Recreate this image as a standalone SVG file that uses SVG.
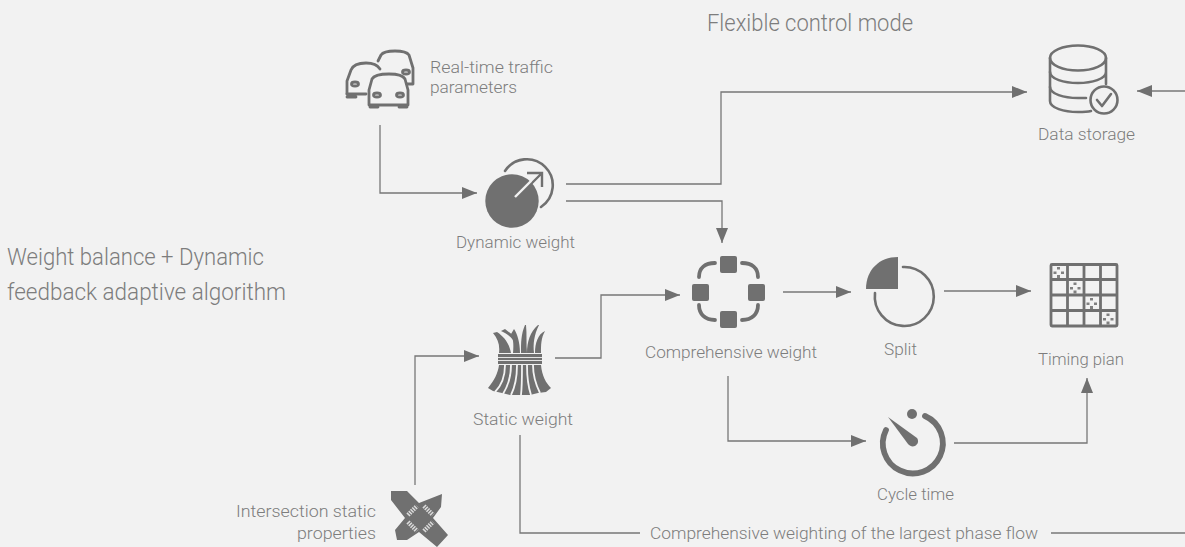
<svg xmlns="http://www.w3.org/2000/svg" width="1185" height="547" viewBox="0 0 1185 547">
<style>
text{font-family:"Roboto","Liberation Sans",sans-serif;font-weight:300;fill:#7d7d7d;font-size:17px}
.big{font-size:23px}
.c{fill:none;stroke:#777;stroke-width:1.3}
.s{fill:none;stroke:#707070;stroke-width:2.6;stroke-linecap:round;stroke-linejoin:round}
.f{fill:#707070}
.g{fill:none;stroke:#f2f2f2;stroke-width:1.800}
</style>
<defs>
<marker id="a" markerUnits="userSpaceOnUse" markerWidth="16" markerHeight="12" refX="15" refY="6" orient="auto"><path d="M0 0L15 6L0 12Z" fill="#707070"/></marker>
</defs>
<rect width="1185" height="547" fill="#f2f2f2"/>
<g id="connectors">
<path class="c" d="M380 125V193H477" marker-end="url(#a)"/>
<path class="c" d="M566 184H721V92H1027" marker-end="url(#a)"/>
<path class="c" d="M566 201H722V243" marker-end="url(#a)"/>
<path class="c" d="M1185 91H1137" marker-end="url(#a)"/>
<path class="c" d="M555 358H601V295H680" marker-end="url(#a)"/>
<path class="c" d="M783 292H851" marker-end="url(#a)"/>
<path class="c" d="M944 291H1031" marker-end="url(#a)"/>
<path class="c" d="M728 376V441H866" marker-end="url(#a)"/>
<path class="c" d="M954 443H1087V378" marker-end="url(#a)"/>
<path class="c" d="M415 485V356H479" marker-end="url(#a)"/>
<path class="c" d="M520 435V533H640"/>
<path class="c" d="M1051 533H1185"/>
</g>
<text x="707" y="31" class="big" textLength="206" lengthAdjust="spacingAndGlyphs">Flexible control mode</text>
<g id="weight-balance">
<text x="7" y="265" class="big" textLength="257" lengthAdjust="spacingAndGlyphs">Weight balance + Dynamic</text>
<text x="7" y="300" class="big" textLength="279" lengthAdjust="spacingAndGlyphs">feedback adaptive algorithm</text>
</g>
<g id="traffic">
<g class="s" style="stroke-width:2.800">
<path d="M378 61L381 55C383 52 387 51 395 51C403 51 407 52 409 55L413 68V84H407"/>
<path d="M347 94V81L351 70C353 65 358 63 366 63C372 63 377 64 380 69"/>
<path d="M347 94H366M347 97H356"/>
<ellipse cx="355" cy="84" rx="3.500" ry="2"/><ellipse cx="406" cy="72" rx="3.500" ry="2"/>
<path d="M369 90L372 79C374 75 380 74 389 74C398 74 403 75 405 79L408 90V105H369Z"/>
<ellipse cx="377" cy="95" rx="3.500" ry="2"/><ellipse cx="400" cy="95" rx="3.500" ry="2"/>
<path d="M370 107H378M399 107H407"/>
</g>
<text x="430" y="73" textLength="123" lengthAdjust="spacingAndGlyphs">Real-time traffic</text>
<text x="430" y="93" textLength="87" lengthAdjust="spacingAndGlyphs">parameters</text>
</g>
<g id="dynamic">
<circle class="f" cx="512" cy="201" r="26.700"/>
<path class="s" d="M505 171A26 26 0 1 1 541 207"/>
<path d="M527 173H542V187M542 173L530 185" fill="none" stroke="#707070" stroke-width="2.400"/>
<path d="M515 197L531 181" fill="none" stroke="#f2f2f2" stroke-width="2.400"/>
<text x="456" y="248" textLength="119" lengthAdjust="spacingAndGlyphs">Dynamic weight</text>
</g>
<g id="storage">
<g class="s">
<ellipse cx="1078" cy="58" rx="28" ry="12.500"/>
<path d="M1050 58V101C1050 108 1064 112 1078 112C1083 112 1087 112 1091 111"/>
<path d="M1106 58V84M1050 72C1050 79 1064 83 1078 83C1092 83 1106 79 1106 72"/>
<path d="M1050 87C1050 94 1064 98 1078 98H1086"/>
<circle cx="1104" cy="100" r="13.500"/>
<path d="M1097 100L1102 106L1111 94"/>
</g>
<text x="1038" y="140" textLength="97" lengthAdjust="spacingAndGlyphs">Data storage</text>
</g>
<g id="comprehensive">
<g class="f">
<rect x="720" y="256" width="17" height="17" rx="2"/><rect x="692" y="284" width="17" height="17" rx="2"/><rect x="748" y="284" width="17" height="17" rx="2"/><rect x="720" y="311" width="17" height="17" rx="2"/>
</g>
<g class="s" style="stroke-width:3.800">
<path d="M699 277C699 268 705 263 715 263M742 263C752 263 758 268 758 277"/>
<path d="M699 305C699 314 705 320 715 320M742 320C752 320 758 314 758 305"/>
</g>
<text x="645" y="358" textLength="172" lengthAdjust="spacingAndGlyphs">Comprehensive weight</text>
</g>
<g id="split">
<path class="f" d="M898 257V289H866C866 270 879 257 898 257Z"/>
<path class="s" d="M903 267A29.500 29.500 0 1 1 875 293"/>
<text x="884" y="355" textLength="33" lengthAdjust="spacingAndGlyphs">Split</text>
</g>
<g id="timing">
<g style="fill:none;stroke:#707070;stroke-width:2.800">
<rect x="1051" y="264.500" width="66" height="61.500" rx="1"/>
<path d="M1067.500 264V326M1084 264V326M1100.500 264V326M1051 279.500H1117M1051 295H1117M1051 310.500H1117"/>
</g>
<g fill="#808080">
<g id="dots"><rect x="1057" y="267" width="3" height="2.500"/><rect x="1053.500" y="271.500" width="3" height="2.500"/><rect x="1061" y="271.500" width="3" height="2.500"/><rect x="1057" y="275" width="3" height="3"/></g>
<use href="#dots" x="16.500" y="15.500"/><use href="#dots" x="33" y="31"/><use href="#dots" x="49.500" y="46.500"/>
</g>
<text x="1038" y="365" textLength="86" lengthAdjust="spacingAndGlyphs">Timing pian</text>
</g>
<g id="static">
<g class="f">
<rect x="498" y="354" width="44" height="10"/>
<path d="M499 353C500 345 498 339 493 333L497 332C503 336 509 342 511 353Z"/>
<path d="M501 331L505 329L514 336L513 340C510 336 506 333 501 331Z"/>
<path d="M513 353C514 344 513 338 511 334L514 329C517 333 520 342 520 353Z"/>
<path d="M522 353C522 343 522 334 526 325L527 325C528 334 527 344 528 353Z" transform="translate(-1 0)"/>
<path d="M527 353C527 342 530 332 538 325L539 325C534 335 533 344 534 353Z"/>
<path d="M535 353C535 343 538 334 545 331C541 338 541 345 541 353Z"/>
<path d="M499 365H541C542 376 546 383 551 388L546 392L538 393L530 395L520 395L510 395L502 393L493 391L488 388C494 381 498 373 499 365Z"/>
</g>
<path class="g" d="M498 357.500H542M498 360.500H542" style="stroke-width:.9"/>
<path class="g" d="M505 365C505 376 502 385 495 392M511 365C511 376 508 386 503 394M517 365C517 376 515 387 511 395M522 365C522 376 522 387 521 395M527 365C527 376 528 386 531 395M533 365C533 376 536 385 540 393"/>
<text x="473" y="425" textLength="100" lengthAdjust="spacingAndGlyphs">Static weight</text>
</g>
<g id="cycle">
<path class="s" style="stroke-width:5.800" d="M925 416A30 30 0 1 1 886 430"/>
<circle class="f" cx="912" cy="414" r="5"/>
<path class="f" d="M888 417L917 438C919 441 918 444 915 446C912 447 910 446 908 444Z"/>
<text x="877" y="500" textLength="77" lengthAdjust="spacingAndGlyphs">Cycle time</text>
</g>
<g id="intersection">
<path class="f" d="M391 491L407 491L419 503L442 494L441 507L433 518L448 535L437 547L419 532L407 540L397 540L395 530L405 518L391 500Z"/>
<g fill="none" stroke="#dcdcdc" stroke-width="4.500" stroke-dasharray="1.500 1">
<path d="M408 515L417 506"/><path d="M424 506L433 515"/><path d="M408 522L417 531"/><path d="M424 531L433 522"/>
</g>
<text x="376" y="517" text-anchor="end" textLength="140" lengthAdjust="spacingAndGlyphs">Intersection static</text>
<text x="376" y="539" text-anchor="end" textLength="79" lengthAdjust="spacingAndGlyphs">properties</text>
</g>
<text x="650" y="539" textLength="388" lengthAdjust="spacingAndGlyphs">Comprehensive weighting of the largest phase flow</text>
</svg>
